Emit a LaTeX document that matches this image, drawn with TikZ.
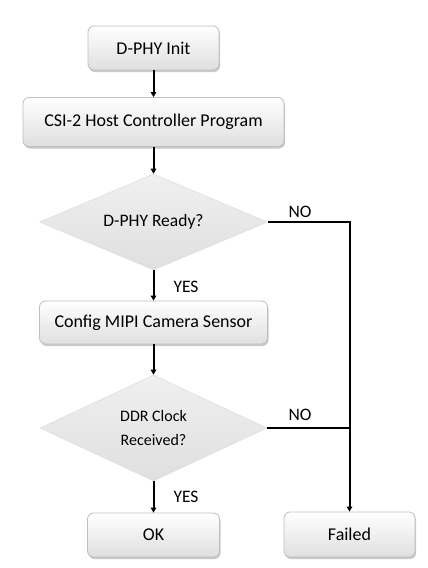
\documentclass[tikz,border=0pt]{standalone}
\usepackage{fontspec}
\setmainfont{Carlito}
\usetikzlibrary{shapes.geometric,shadows,arrows.meta}
\tikzset{
  procbox/.style={rectangle, rounded corners=6pt, draw=gray!50, line width=0.8pt,
    top color=white, bottom color=gray!25, inner sep=0pt,
    drop shadow={shadow xshift=1pt, shadow yshift=-2pt, fill=gray!60, opacity=0.7},
    font=\fontsize{18pt}{21pt}\selectfont},
  decision/.style={diamond, aspect=2.3, inner sep=0pt, draw=gray!25, line width=0.6pt,
    top color=gray!12, bottom color=gray!25, align=center},
  conn/.style={line width=2pt, -{Triangle[length=5pt,width=5.5pt]}},
  plainconn/.style={line width=2pt},
  lbl/.style={font=\fontsize{17.5pt}{21pt}\selectfont, inner sep=0pt}
}
\begin{document}
\begin{tikzpicture}[x=1pt,y=-1pt]
\useasboundingbox (0,0) rectangle (428,568);
\node[procbox, minimum width=131pt, minimum height=44pt] (init) at (153.5,48) {D-PHY Init};
\node[procbox, minimum width=261pt, minimum height=49pt] (csi) at (153.5,122) {CSI-2 Host Controller Program};
\node[decision, minimum width=228pt, minimum height=96pt, font=\fontsize{17.5pt}{21pt}\selectfont] (d1) at (153.5,222) {D-PHY Ready?};
\node[procbox, minimum width=228pt, minimum height=43pt] (cfg) at (153.5,322.5) {Config MIPI Camera Sensor};
\node[decision, minimum width=227pt, minimum height=106pt, font=\fontsize{16pt}{24pt}\selectfont] (d2) at (153.5,428) {DDR Clock\\Received?};
\node[procbox, minimum width=132pt, minimum height=44pt] (ok) at (153.5,535) {OK};
\node[procbox, minimum width=131pt, minimum height=45pt] (fail) at (349.5,534.5) {Failed};

\coordinate (c1) at (349.5,222);
\draw[conn] (init.south) -- (csi.north);
\draw[conn] (csi.south) -- (d1.north);
\draw[conn] (d1.south) -- (cfg.north);
\draw[conn] (cfg.south) -- (d2.north);
\draw[conn] (d2.south) -- (ok.north);
\draw[conn] (d1.east) -- (c1) -- (fail.north);
\draw[plainconn] (d2.east) -- (fail.north |- d2.east);

\node[lbl] (no1) at (300,212) {NO};
\node[lbl] (yes1) at (186,287) {YES};
\node[lbl] (no2) at (300,415) {NO};
\node[lbl] (yes2) at (186,497) {YES};
\end{tikzpicture}
\end{document}
